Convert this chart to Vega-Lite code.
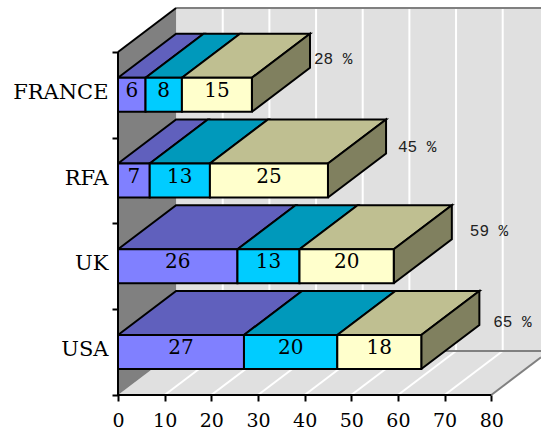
{
"$schema":"https://vega.github.io/schema/vega-lite/v6.json",
"width":423,"height":387,
"autosize":{"type":"none"},
"padding":{"left":118,"top":8,"right":0,"bottom":40},
"background":"white",
"config":{"view":{"stroke":null}},
"datasets":{
"bars":[
{"country":"USA","row":0,"series":"A","value":27},
{"country":"USA","row":0,"series":"B","value":20},
{"country":"USA","row":0,"series":"C","value":18},
{"country":"UK","row":1,"series":"A","value":25.6},
{"country":"UK","row":1,"series":"B","value":13.3},
{"country":"UK","row":1,"series":"C","value":20.2},
{"country":"RFA","row":2,"series":"A","value":6.8},
{"country":"RFA","row":2,"series":"B","value":12.9},
{"country":"RFA","row":2,"series":"C","value":25.3},
{"country":"FRANCE","row":3,"series":"A","value":5.9},
{"country":"FRANCE","row":3,"series":"B","value":7.8},
{"country":"FRANCE","row":3,"series":"C","value":15}
],
"totals":[
{"country":"USA","row":0,"total":65},
{"country":"UK","row":1,"total":59},
{"country":"RFA","row":2,"total":45},
{"country":"FRANCE","row":3,"total":28}
],
"grid":[{"v":10},{"v":20},{"v":30},{"v":40},{"v":50},{"v":60},{"v":70}],
"walls":[
{"part":"floor","k":0,"vx":0,"vy":0},
{"part":"floor","k":1,"vx":80,"vy":0},
{"part":"floor","k":2,"vx":92.45,"vy":0.513},
{"part":"floor","k":3,"vx":12.45,"vy":0.513},
{"part":"left","k":0,"vx":0,"vy":0},
{"part":"left","k":1,"vx":12.45,"vy":0.513},
{"part":"left","k":2,"vx":12.45,"vy":4.513},
{"part":"left","k":3,"vx":0,"vy":4}
]
},
"layer":[
{"mark":{"type":"rect","fill":"#e0e0e0","clip":true},
 "data":{"values":[{"a":12.45,"b":90.66,"c":0.513,"d":4.513}]},
 "encoding":{
  "x":{"field":"a","type":"quantitative","scale":{"domain":[0,90.66],"nice":false,"zero":false},
   "axis":{"title":null,"values":[0,10,20,30,40,50,60,70,80],"domain":false,"grid":false,"tickColor":"black","tickWidth":2,"tickSize":6,"labelFont":"DejaVu Serif","labelFontSize":19,"labelColor":"black","labelPadding":10,"labelFlush":false,"labelOverlap":false,"labelBound":false,"zindex":1,"format":"d"}},
  "x2":{"field":"b"},
  "y":{"field":"c","type":"quantitative","scale":{"domain":[0,4.513],"nice":false,"zero":false},
   "axis":{"title":null,"values":[0,0.53,1,1.53,2,2.53,3,3.53,4],"domain":false,"grid":false,"tickColor":"black","tickWidth":2,"tickSize":6,"tickOpacity":{"expr":"datum.value % 1 === 0 ? 1 : 0"},"labelExpr":"datum.value % 1 === 0 ? '' : ['USA','UK','RFA','FRANCE'][floor(datum.value)]","labelFont":"DejaVu Serif","labelFontSize":21,"labelColor":"black","labelPadding":4,"labelFlush":false,"labelOverlap":false,"labelBound":false,"zindex":1}},
  "y2":{"field":"d"}}},
{"mark":{"type":"line","stroke":null,"clip":true},
 "data":{"name":"walls"},
 "encoding":{
  "x":{"field":"vx","type":"quantitative","scale":{"domain":[0,90.66],"nice":false,"zero":false}},
  "y":{"field":"vy","type":"quantitative","scale":{"domain":[0,4.513],"nice":false,"zero":false}},
  "order":{"field":"k"},
  "fill":{"field":"part","scale":{"domain":["floor","left"],"range":["#e0e0e0","#808080"]},"legend":null}}},
{"mark":{"type":"rule","stroke":"white","strokeWidth":2,"clip":true},
 "data":{"name":"grid"},
 "transform":[{"calculate":"datum.v+12.45","as":"b"}],
 "encoding":{
  "x":{"field":"v","type":"quantitative","scale":{"domain":[0,90.66],"nice":false,"zero":false}},
  "x2":{"field":"b"},
  "y":{"datum":0,"type":"quantitative","scale":{"domain":[0,4.513],"nice":false,"zero":false}},
  "y2":{"datum":0.513}}},
{"mark":{"type":"rule","stroke":"white","strokeWidth":2,"clip":true},
 "data":{"name":"grid"},
 "transform":[{"calculate":"datum.v+12.45","as":"b"}],
 "encoding":{
  "x":{"field":"b","type":"quantitative","scale":{"domain":[0,90.66],"nice":false,"zero":false}},
  "y":{"datum":0.513,"type":"quantitative","scale":{"domain":[0,4.513],"nice":false,"zero":false}},
  "y2":{"datum":4.513}}},
{"mark":{"type":"rule","stroke":"#808080","strokeWidth":2,"clip":false},
 "data":{"values":[
  {"a":12.45,"b":90.66,"c":4.513,"d":4.513},
  {"a":12.45,"b":90.66,"c":0.513,"d":0.513},
  {"a":80,"b":90.66,"c":0,"d":0.4392}]},
 "encoding":{
  "x":{"field":"a","type":"quantitative","scale":{"domain":[0,90.66],"nice":false,"zero":false}},
  "x2":{"field":"b"},
  "y":{"field":"c","type":"quantitative","scale":{"domain":[0,4.513],"nice":false,"zero":false}},
  "y2":{"field":"d"}}},
{"mark":{"type":"rule","stroke":"black","strokeWidth":2},
 "data":{"values":[
  {"a":0,"b":80,"c":0,"d":0},
  {"a":0,"b":0,"c":0,"d":4},
  {"a":0,"b":12.45,"c":4,"d":4.513}]},
 "encoding":{
  "x":{"field":"a","type":"quantitative","scale":{"domain":[0,90.66],"nice":false,"zero":false}},
  "x2":{"field":"b"},
  "y":{"field":"c","type":"quantitative","scale":{"domain":[0,4.513],"nice":false,"zero":false}},
  "y2":{"field":"d"}}},
{"mark":{"type":"line","stroke":"black","strokeWidth":2,"strokeJoin":"miter"},
 "data":{"name":"bars"},
 "transform":[
  {"stack":"value","groupby":["country"],"sort":[{"field":"series"}],"as":["x0","x1"]},
  {"calculate":"[datum.x0,datum.x1,datum.x1+12.45,datum.x0+12.45,datum.x0]","as":"vx"},
  {"calculate":"[datum.row+0.7,datum.row+0.7,datum.row+1.213,datum.row+1.213,datum.row+0.7]","as":"vy"},
  {"calculate":"[0,1,2,3,4]","as":"k"},
  {"flatten":["vx","vy","k"]}],
 "encoding":{
  "x":{"field":"vx","type":"quantitative","scale":{"domain":[0,90.66],"nice":false,"zero":false}},
  "y":{"field":"vy","type":"quantitative","scale":{"domain":[0,4.513],"nice":false,"zero":false}},
  "order":{"field":"k"},
  "detail":{"field":"country"},
  "fill":{"field":"series","scale":{"domain":["A","B","C"],"range":["#6060bd","#0099bb","#bfbf91"]},"legend":null}}},
{"mark":{"type":"line","stroke":"black","strokeWidth":2,"strokeJoin":"miter"},
 "data":{"name":"bars"},
 "transform":[
  {"stack":"value","groupby":["country"],"sort":[{"field":"series"}],"as":["x0","x1"]},
  {"filter":"datum.series === 'C'"},
  {"calculate":"[datum.x1,datum.x1,datum.x1+12.45,datum.x1+12.45,datum.x1]","as":"vx"},
  {"calculate":"[datum.row+0.303,datum.row+0.7,datum.row+1.213,datum.row+0.816,datum.row+0.303]","as":"vy"},
  {"calculate":"[0,1,2,3,4]","as":"k"},
  {"flatten":["vx","vy","k"]}],
 "encoding":{
  "x":{"field":"vx","type":"quantitative","scale":{"domain":[0,90.66],"nice":false,"zero":false}},
  "y":{"field":"vy","type":"quantitative","scale":{"domain":[0,4.513],"nice":false,"zero":false}},
  "order":{"field":"k"},
  "detail":{"field":"country"},
  "fill":{"value":"#80805f"}}},
{"mark":{"type":"rect","stroke":"black","strokeWidth":2},
 "data":{"name":"bars"},
 "transform":[
  {"stack":"value","groupby":["country"],"sort":[{"field":"series"}],"as":["x0","x1"]},
  {"calculate":"datum.row+0.303","as":"yb"},
  {"calculate":"datum.row+0.7","as":"yt"}],
 "encoding":{
  "x":{"field":"x0","type":"quantitative","scale":{"domain":[0,90.66],"nice":false,"zero":false}},
  "x2":{"field":"x1"},
  "y":{"field":"yb","type":"quantitative","scale":{"domain":[0,4.513],"nice":false,"zero":false}},
  "y2":{"field":"yt"},
  "fill":{"field":"series","scale":{"domain":["A","B","C"],"range":["#8080ff","#00ccff","#ffffcc"]},"legend":null}}},
{"mark":{"type":"text","font":"DejaVu Serif","fontSize":20,"fill":"black","baseline":"middle","align":"center","dy":-4},
 "data":{"name":"bars"},
 "transform":[
  {"stack":"value","groupby":["country"],"sort":[{"field":"series"}],"as":["x0","x1"]},
  {"calculate":"(datum.x0+datum.x1)/2","as":"xm"},
  {"calculate":"datum.row+0.5","as":"ym"}],
 "encoding":{
  "x":{"field":"xm","type":"quantitative","scale":{"domain":[0,90.66],"nice":false,"zero":false}},
  "y":{"field":"ym","type":"quantitative","scale":{"domain":[0,4.513],"nice":false,"zero":false}},
  "text":{"field":"value","type":"quantitative","format":".0f"}}},
{"mark":{"type":"text","font":"Liberation Mono","fontSize":16,"fill":"#222222","baseline":"middle","align":"left"},
 "data":{"name":"totals"},
 "transform":[
  {"calculate":"[80.4,75.4,60,42][datum.row]","as":"lx"},
  {"calculate":"[0.851,1.913,2.892,3.918][datum.row]","as":"ly"},
  {"calculate":"datum.total+' %'","as":"label"}],
 "encoding":{
  "x":{"field":"lx","type":"quantitative","scale":{"domain":[0,90.66],"nice":false,"zero":false}},
  "y":{"field":"ly","type":"quantitative","scale":{"domain":[0,4.513],"nice":false,"zero":false}},
  "text":{"field":"label"}}}
],
"resolve":{"scale":{"fill":"independent"}}
}
